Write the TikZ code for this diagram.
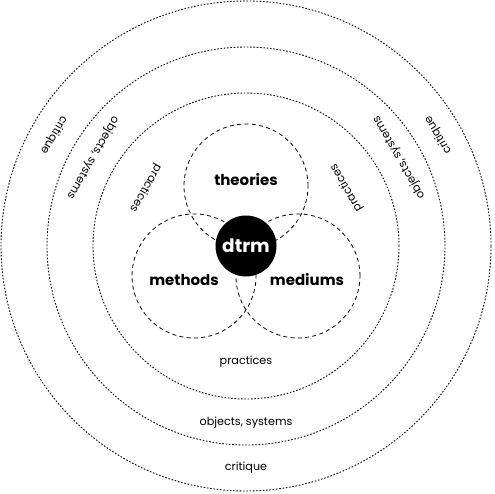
\documentclass[tikz,border=0pt]{standalone}
\usepackage{fontspec}
\setmainfont{Poppins}
\usetikzlibrary{positioning}

\begin{document}
\begin{tikzpicture}[
    x=1pt, y=1pt,
    ring/.style={circle, draw=black, line width=0.9pt,
                 dash pattern=on 1.6pt off 1.7pt, inner sep=0pt},
    venn/.style={circle, draw=black, line width=0.8pt,
                 dash pattern=on 4pt off 3.3pt,
                 minimum size=124pt, inner sep=0pt},
    hub/.style ={circle, fill=black, text=white, inner sep=0pt,
                 minimum size=61pt,
                 font=\fontsize{18.5}{18.5}\selectfont\bfseries},
    key/.style ={font=\fontsize{15}{15}\selectfont\bfseries},
    tag/.style ={inner sep=0pt, font=\fontsize{11.2}{12}\selectfont}
]
\useasboundingbox (-246,-248) rectangle (249,246);

%---- RINGS ----------------------------------------
\node (crit) [ring, minimum size=490pt] at (0,0) {};
\node (objs) [ring, minimum size=398pt] at (0,0) {};
\node (prac) [ring, minimum size=306pt] at (0,0) {};

%---- VENN -----------------------------------------
\node (theo) [venn] at (90:60)  {};
\node (meth) [venn] at (210:60) {};
\node (medi) [venn] at (330:60) {};

\node [key, yshift=6pt]                at (theo) {theories};
\node [key, xshift=-10pt, yshift=-4pt] at (meth) {methods};
\node [key, xshift=9pt, yshift=-4pt]   at (medi) {mediums};

%---- CORE -----------------------------------------
\node (core) [hub] at (0,0) {dtrm};

%---- RING LABELS ----------------------------------
\foreach \ang in {150, 30, 270} {
  \node [tag, rotate=\ang+90] at (\ang:116) {practices};
  \node [tag, rotate=\ang+90] at (\ang:177) {objects, systems};
  \node [tag, rotate=\ang+90] at (\ang:222) {critique};
}
\end{tikzpicture}
\end{document}
